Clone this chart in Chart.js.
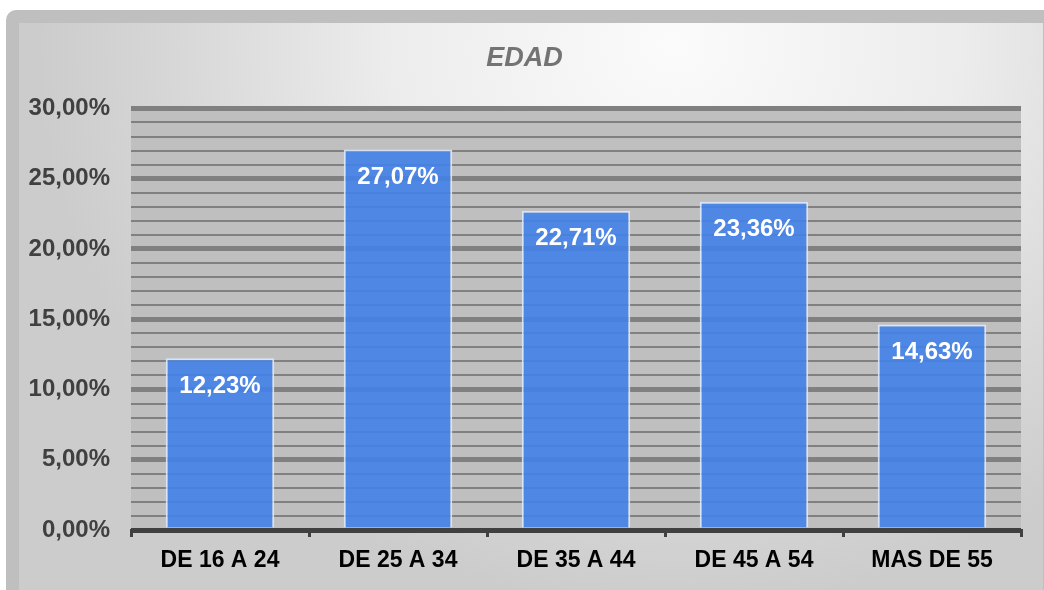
<!DOCTYPE html>
<html>
<head>
<meta charset="utf-8">
<script src="https://cdn.jsdelivr.net/npm/chart.js@4"></script>
<style>
  html, body { margin:0; padding:0; width:1044px; height:590px; overflow:hidden; background:#ffffff; }
  #frame {
    position:absolute; left:6px; top:10px; width:1050px; height:600px; box-sizing:border-box;
    border:13px solid #bfbfbf; border-radius:10px 0 0 0;
    background: radial-gradient(ellipse 640px 560px at 64% 4%, #fbfbfb 0%, #ececec 45%, #d6d6d6 80%, #cccccc 100%);
  }
  #wrap { position:absolute; left:0; top:0; width:1044px; height:590px; }
</style>
</head>
<body>
<div id="frame"></div>
<div id="wrap"><canvas id="c" width="1044" height="590"></canvas></div>
<script>
const categories = ["DE 16 A 24", "DE 25 A 34", "DE 35 A 44", "DE 45 A 54", "MAS DE 55"];
const values = [12.23, 27.07, 22.71, 23.36, 14.63];
const chartTitle = "EDAD";
const yMax = 30;
const yStep = 1;
const yLabelStep = 5;

const fmt = v => v.toFixed(2).replace('.', ',') + '%';

const plotBg = {
  id: 'plotBg',
  beforeDraw(chart) {
    const {ctx, chartArea: a} = chart;
    ctx.save();
    ctx.fillStyle = '#bfbfbf';
    ctx.fillRect(a.left, a.top, a.right - a.left, a.bottom - a.top);
    ctx.restore();
  }
};

const barLabels = {
  id: 'barLabels',
  afterDatasetsDraw(chart) {
    const {ctx} = chart;
    const meta = chart.getDatasetMeta(0);
    ctx.save();
    ctx.fillStyle = '#ffffff';
    ctx.font = 'bold 24px "Liberation Sans", Arial, sans-serif';
    ctx.textAlign = 'center';
    ctx.textBaseline = 'middle';
    meta.data.forEach((el, i) => {
      ctx.fillText(fmt(chart.data.datasets[0].data[i]), el.x, el.y + 28);
    });
    ctx.restore();
  }
};

new Chart(document.getElementById('c'), {
  type: 'bar',
  data: {
    labels: categories,
    datasets: [{
      data: values,
      backgroundColor: 'rgba(67,129,232,0.9)',
      borderColor: 'rgba(220,232,250,0.9)',
      borderWidth: {top: 2, left: 2, right: 2, bottom: 0},
      borderSkipped: false,
      barPercentage: 0.61,
      categoryPercentage: 1.0
    }]
  },
  options: {
    responsive: false,
    animation: false,
    events: [],
    layout: { padding: { left: 28, right: 23, top: 38, bottom: 0 } },
    plugins: {
      legend: { display: false },
      tooltip: { enabled: false },
      title: {
        display: true,
        text: chartTitle,
        color: '#737373',
        font: { family: '"Liberation Sans", Arial, sans-serif', size: 27, weight: 'bold', style: 'italic' },
        padding: { top: 4, bottom: 34 }
      }
    },
    scales: {
      y: {
        min: 0, max: yMax,
        afterFit(scale) { scale.width = 103; },
        border: { display: false },
        grid: {
          drawTicks: false,
          color: ctx => (ctx.tick && ctx.tick.value === 0) ? '#404040' : '#808080',
          lineWidth: ctx => (ctx.tick && ctx.tick.value % yLabelStep === 0) ? 5 : 2
        },
        ticks: {
          stepSize: yStep,
          autoSkip: false,
          padding: 21,
          color: '#404040',
          font: { family: '"Liberation Sans", Arial, sans-serif', size: 24, weight: 'bold' },
          callback: v => (v % yLabelStep === 0) ? fmt(v) : ''
        }
      },
      x: {
        afterFit(scale) { scale.height = 60; },
        border: { display: true, color: '#404040', width: 3 },
        grid: {
          offset: true,
          drawOnChartArea: false,
          drawTicks: true,
          tickLength: 7,
          color: '#404040',
          lineWidth: 3
        },
        ticks: {
          padding: 10,
          color: '#000000',
          font: { family: '"Liberation Sans", Arial, sans-serif', size: 23, weight: 'bold' }
        }
      }
    }
  },
  plugins: [plotBg, barLabels]
});
</script>
</body>
</html>
